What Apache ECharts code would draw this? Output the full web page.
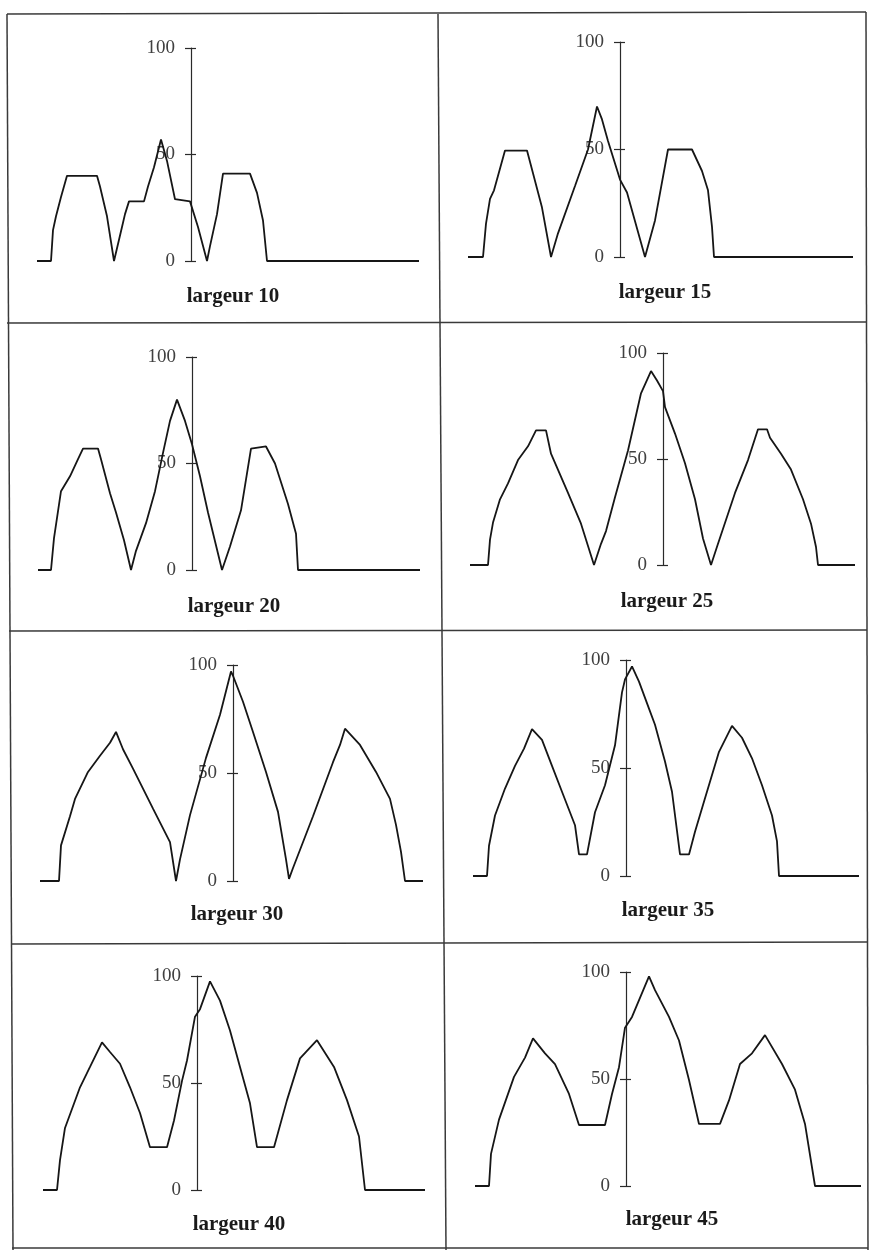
<!DOCTYPE html>
<html>
<head>
<meta charset="utf-8">
<script src="https://cdn.jsdelivr.net/npm/echarts@6/dist/echarts.min.js"></script>
<style>
html,body{margin:0;padding:0;background:#fff;}
#chart{width:869px;height:1253px;}
</style>
</head>
<body>
<div id="chart"></div>
<script>
// ---- data (position along profile relative to the vertical axis, intensity in %) ----
var widths = [10, 15, 20, 25, 30, 35, 40, 45];
var yTicks = [0, 50, 100];

var x10 = [-154,-140,-138,-135,-130,-124,-94,-91,-84,-77,-69,-66,-62,-47,-43,-37,-30,-24,-16,-1,7,16,19,26,32,59,66,72,76,228];
var y10 = [0,0,14.5,21,30,40,40,35,21,0,16,22,28,28,35,44,57,47,29,28,16,0,7,22,41,41,32,19,0,0];

var x15 = [-152,-137,-134,-130,-126,-115,-93,-87,-78,-69,-62,-45,-32,-23,-18,-12,0,7,25,35,48,72,82,88,92,94,233];
var y15 = [0,0,15.5,27,31,49.5,49.5,39,23,0,11,33,50,70,64,54,36,30,0,17,50,50,40,31,14,0,0];

var x20 = [-154,-141,-138,-131,-122,-114,-109,-94,-91,-82,-76,-68,-61,-56,-46,-37,-29,-22,-15,-7,0,8,16,30,38,49,59,74,83,96,104,106,228];
var y20 = [0,0,15,37,44,52,57,57,52,36,27,14,0,9,22,37,55,70,80,70,59,44,27,0,11,28,57,58,50,31,17,0,0];

var x25 = [-193,-175,-173,-170,-163,-155,-145,-135,-127,-117,-112,-95,-82,-69,-62,-57,-48,-35,-22,-12,-6,0,2,12,22,32,40,48,55,72,85,95,104,107,118,128,140,148,153,155,192];
var y25 = [0,0,12,20,31,38.5,49.5,56,63.5,63.5,52.5,34,19.5,0,10,16,32,54,81,91.5,87,82,74.5,62,48,31,12.5,0,10,34,49.5,64,64,60,52.5,45,31,19.5,8.5,0,0];

var x30 = [-193,-174,-172,-163,-158,-145,-133,-123,-117,-110,-100,-80,-63,-57,-53,-43,-27,-13,-2,0,10,20,33,45,53,56,60,80,100,107,112,127,143,157,163,168,172,190];
var y30 = [0,0,16.5,30,38,50.5,58,64,69,61,52,33.5,18,0,10,30.5,57,77,97,95,83,69,50.5,32,10,1,6,30,55,63,70.5,63,50.5,38,26,13.5,0,0];

var x35 = [-153,-139,-137,-131,-121,-111,-102,-94,-84,-74,-64,-51,-47,-39,-31,-21,-11,-4,-1,6,13,23,29,39,46,54,63,69,79,93,106,116,126,136,146,151,153,233];
var y35 = [0,0,14,28,40.5,51,59,68,63,51,39,23.5,10,10,29.5,42,60.5,85,91,97,90,77.5,70,53,39,10,10,20.5,36,57.5,69.5,64,54.5,42,28,16,0,0];

var x40 = [-154,-140,-137,-132,-117,-107,-95,-87,-77,-67,-57,-47,-30,-23,-15,-10,-2,3,13,23,33,43,53,60,77,90,103,120,137,150,162,168,228];
var y40 = [0,0,14,29,48,57.5,69,64.5,59,48,36,20,20,32.5,51,60.5,81,84.5,97.5,88.5,74.5,57.5,40.5,20,20,42,61.5,70,57.5,42,25,0,0];

var x45 = [-151,-137,-135,-127,-112,-101,-93,-81,-71,-57,-47,-21,-14,-7,-1,6,23,29,43,53,63,73,94,103,114,126,139,156,169,179,189,235];
var y45 = [0,0,15,31,51,60,69,62,57,43,28.5,28.5,43,55.5,74,79,98,91.5,79,68,49.5,29,29,40,57,62,70.5,57,45,29,0,0];

var xs = [x10, x15, x20, x25, x30, x35, x40, x45];
var ys = [y10, y15, y20, y25, y30, y35, y40, y45];

// ---- layout (pixels) ----
var gridBoxes = [
  {left:37,  top:48,  width:382, height:213},
  {left:468, top:42,  width:385, height:215},
  {left:38,  top:357, width:382, height:213},
  {left:470, top:353, width:385, height:212},
  {left:40,  top:665, width:383, height:216},
  {left:473, top:660, width:386, height:216},
  {left:43,  top:976, width:382, height:214},
  {left:475, top:972, width:386, height:214}
];
var titlePos = [[233,297],[665,293],[234,607],[667,602],[237,915],[668,911],[239,1225],[672,1220]];
var borderLines = [
  [7,14,866,12],[7,14,13,1250],[438,14,446,1250],[866,12,868,1250],
  [7,323,866,322],[9,631,867,630],[12,944,867,942],[12,1248,868,1248]
];

var axisColor = '#2a2a2a';
var grid = [], xAxis = [], yAxis = [], series = [], title = [];
for (var i = 0; i < widths.length; i++) {
  var b = gridBoxes[i];
  var xd = xs[i];
  var xmin = xd[0], xmax = xd[xd.length-1];
  // place the vertical axis where x = 0 falls inside the grid
  var leftOffset = -b.width * (0 - xmin) / (xmax - xmin);
  var rightOffset = -b.width * (xmax - 0) / (xmax - xmin);
  grid.push({left:b.left, top:b.top, width:b.width, height:b.height, containLabel:false, outerBoundsMode:'none', show:false});
  xAxis.push({type:'value', gridIndex:i, min:xmin, max:xmax, show:false,
              axisLine:{onZero:false}, splitLine:{show:false}});
  yAxis.push({type:'value', gridIndex:i, position:'left', offset:leftOffset,
              min:yTicks[0], max:yTicks[yTicks.length-1], interval:yTicks[1]-yTicks[0],
              axisLine:{show:true, onZero:false, lineStyle:{color:axisColor, width:1.2}},
              axisTick:{show:true, length:6, lineStyle:{color:axisColor, width:1.2}},
              axisLabel:{show:true, margin:16, color:'#404040', fontFamily:'Liberation Serif', fontSize:19},
              splitLine:{show:false}});
  // same axis, right-hand half of the crossing ticks
  yAxis.push({type:'value', gridIndex:i, position:'right', offset:rightOffset,
              min:yTicks[0], max:yTicks[yTicks.length-1], interval:yTicks[1]-yTicks[0],
              axisLine:{show:false, onZero:false},
              axisTick:{show:true, length:5, lineStyle:{color:axisColor, width:1.2}},
              axisLabel:{show:false}, splitLine:{show:false}});
  var pts = [];
  for (var k = 0; k < xd.length; k++) pts.push([xd[k], ys[i][k]]);
  series.push({type:'line', xAxisIndex:i, yAxisIndex:2*i, data:pts, showSymbol:false, symbol:'none',
               lineStyle:{color:'#161616', width:1.8}, z:3, silent:true});
  title.push({text:'largeur ' + widths[i], left:titlePos[i][0], top:titlePos[i][1], padding:0,
              textAlign:'center', textVerticalAlign:'middle',
              textStyle:{fontFamily:'Liberation Serif', fontWeight:'bold', fontSize:21, color:'#1a1a1a'}});
}

var graphic = borderLines.map(function(l){
  return {type:'line', shape:{x1:l[0], y1:l[1], x2:l[2], y2:l[3]}, style:{stroke:'#3a3a3a', lineWidth:1.5}, silent:true};
});

var chart = echarts.init(document.getElementById('chart'), null, {renderer:'canvas'});
chart.setOption({
  backgroundColor:'#ffffff',
  animation:false,
  title:title,
  grid:grid,
  xAxis:xAxis,
  yAxis:yAxis,
  series:series,
  graphic:graphic
});
</script>
</body>
</html>
